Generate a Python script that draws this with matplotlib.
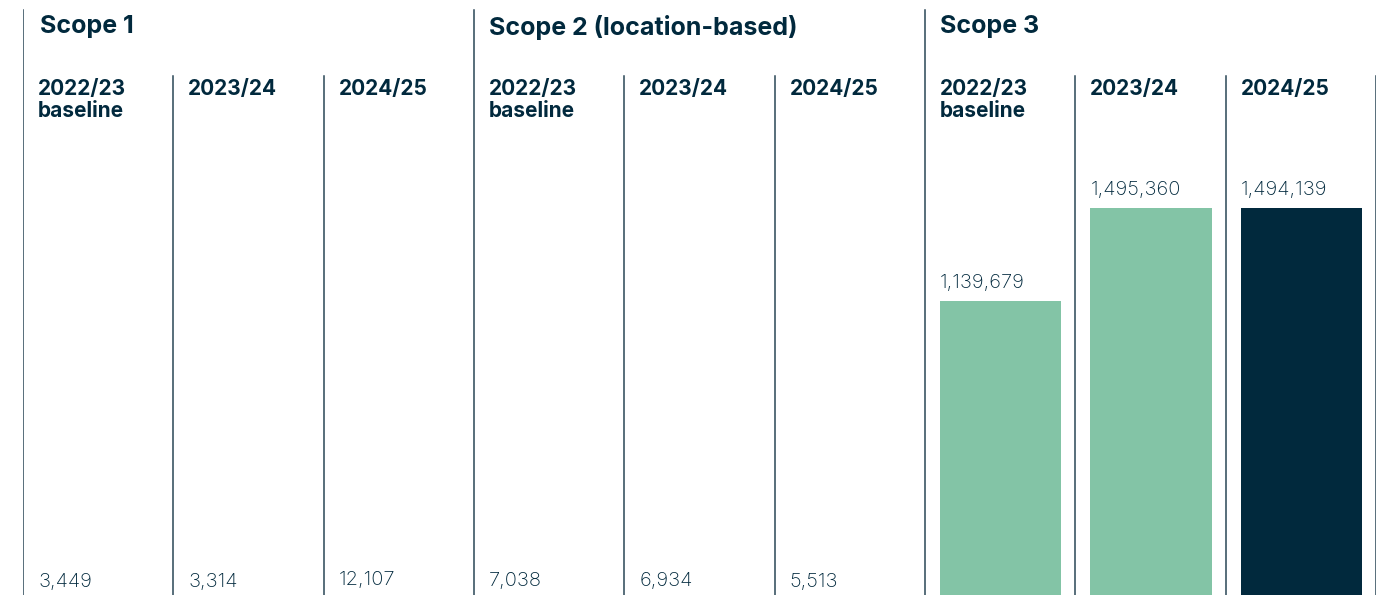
import matplotlib
matplotlib.use("Agg")
import matplotlib.pyplot as plt

groups = ["Scope 1", "Scope 2 (location-based)", "Scope 3"]
years = ["2022/23\nbaseline", "2023/24", "2024/25"]
scope1 = [3449, 3314, 12107]
scope2 = [7038, 6934, 5513]
scope3 = [1139679, 1495360, 1494139]

GREEN = "#83c4a6"
NAVY = "#01293d"
LINE = "#2a4656"

W, H, DPI = 1383, 595, 100
BASE = 601  # pixel row of the bar baseline (slightly below the visible area)
fig = plt.figure(figsize=(W / DPI, H / DPI), dpi=DPI)
x0, x1 = 23, 1376
ax = fig.add_axes([x0 / W, -(BASE - H) / H, (x1 - x0) / W, BASE / H])
ax.set_xlim(0, 9)
ymax = 1495360 * BASE / (BASE - 208)
ax.set_ylim(0, ymax)
ax.axis("off")

def fy(px):
    return 1 - px / BASE

font = "Inter"
allvals = [scope1, scope2, scope3]
for g, (name, vals) in enumerate(zip(groups, allvals)):
    base = g * 3
    ax.axvline(base, ymin=0, ymax=fy(10), color=LINE, lw=1.1)
    ax.text(base + (0.113 if g == 0 else 0.1), fy(15), name, transform=ax.get_xaxis_transform(),
            ha="left", va="top", fontsize=18, fontweight="bold", color=NAVY, family=font)
    for i, (yr, v) in enumerate(zip(years, vals)):
        col = base + i
        if i > 0:
            ax.axvline(col, ymin=0, ymax=fy(76), color=LINE, lw=1.1)
        color = NAVY if (g == 2 and i == 2) else GREEN
        ax.bar(col + 0.1, v, width=0.806, align="edge", color=color, lw=0)
        ax.text(col + 0.1, fy(79), yr, transform=ax.get_xaxis_transform(),
                ha="left", va="top", fontsize=15, fontweight="bold", color=NAVY,
                family=font, linespacing=1.12)
        ax.annotate(f"{v:,}", (col + 0.1, v), xytext=(0, 9), textcoords="offset pixels",
                    ha="left", va="bottom", fontsize=14.5, fontweight="light",
                    color=NAVY, family=font)
ax.axvline(9, ymin=0, ymax=fy(76), color=LINE, lw=1.1)

fig.savefig("out.png", dpi=DPI)
